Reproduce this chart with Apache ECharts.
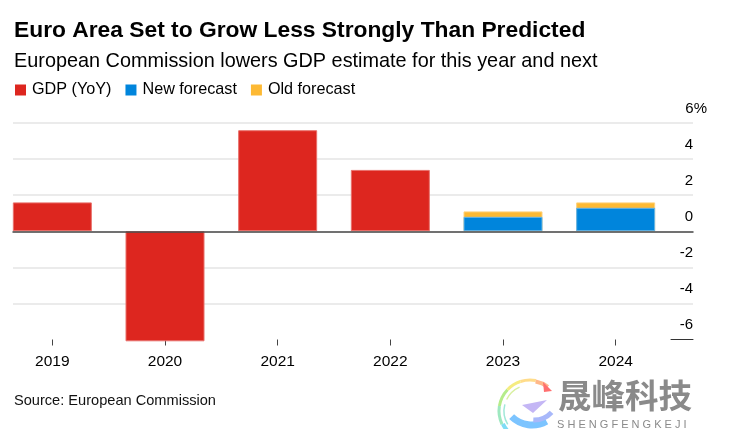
<!DOCTYPE html>
<html><head><meta charset="utf-8">
<style>html,body{margin:0;padding:0;background:#fff}#c{width:748px;height:429px}</style>
<script src="https://cdn.jsdelivr.net/npm/echarts@6/dist/echarts.min.js"></script>
</head><body><div id="c"></div>
<script>
const years = ['2019','2020','2021','2022','2023','2024'];
const gdp = [1.6,-6.1,5.6,3.4,null,null];
const newForecast = [null,null,null,null,0.8,1.3];
const oldForecast = [null,null,null,null,1.1,1.6];
const yTicks = {min:-6,max:6,interval:2};
const FONT = '"Liberation Sans", Arial, sans-serif';
const chart = echarts.init(document.getElementById('c'),null,{renderer:'canvas'});
const ink='#000';
const arc=(r,a,b,color,w=2.5,cx=530,cy=411)=>({type:'arc',silent:true,shape:{cx,cy,r,startAngle:a,endAngle:b},style:{stroke:color,lineWidth:w,fill:null}});
chart.setOption({
  animation:false,
  backgroundColor:'#fff',
  textStyle:{fontFamily:FONT},
  title:[
    {text:'Euro Area Set to Grow Less Strongly Than Predicted',left:9,top:14,textStyle:{fontFamily:FONT,fontSize:22.8,fontWeight:'bold',color:ink}},
    {text:'European Commission lowers GDP estimate for this year and next',left:9,top:47,textStyle:{fontFamily:FONT,fontSize:19.85,fontWeight:'normal',color:ink}},
    {text:'Source: European Commission',left:9,top:388,textStyle:{fontFamily:FONT,fontSize:14.6,fontWeight:'normal',color:'#111'}}
  ],
  legend:{left:10,top:77,itemWidth:11,itemHeight:11,itemGap:14,icon:'rect',
    itemStyle:{borderWidth:0},
    textStyle:{fontFamily:FONT,fontSize:16.2,color:ink,padding:[0,0,0,1]},
    data:['GDP (YoY)','New forecast','Old forecast']},
  grid:[
    {left:13,width:680,top:123,height:216.5,outerBoundsMode:'none'},
    {left:-4,width:676,top:123,height:216.5,outerBoundsMode:'none'},
    {left:671,width:22,top:123,height:216.5,outerBoundsMode:'none'}
  ],
  xAxis:[
    {gridIndex:0,type:'category',data:years,axisTick:{show:false},axisLabel:{show:false},
      axisLine:{show:true,onZero:true,lineStyle:{color:'#4a4a4a',width:1.5}},z:5},
    {gridIndex:1,type:'category',data:years,position:'bottom',
      axisLine:{show:false,onZero:false},
      axisTick:{show:true,alignWithLabel:true,length:6,lineStyle:{color:'#444',width:1}},
      axisLabel:{fontFamily:FONT,fontSize:15.5,color:ink,margin:14}},
    {gridIndex:2,type:'category',data:[''],axisTick:{show:false},axisLabel:{show:false},
      axisLine:{show:true,onZero:false,lineStyle:{color:'#333',width:1}}}
  ],
  yAxis:[
    {gridIndex:0,type:'value',position:'right',offset:14,...yTicks,
      axisLine:{show:false},axisTick:{show:false},
      splitLine:{show:true,showMinLine:false,lineStyle:{color:'#e4e4e4',width:1.5}},
      axisLabel:{inside:true,margin:0,fontFamily:FONT,fontSize:15,color:ink,verticalAlign:'bottom',
        lineHeight:15,padding:[0,0,7,0],
        formatter:v=>v===6?'6%':`{p|${v}}`,
        rich:{p:{fontFamily:FONT,fontSize:15,color:ink,padding:[0,14,0,0],lineHeight:15}}}},
    {gridIndex:1,type:'value',...yTicks,axisLine:{show:false},axisTick:{show:false},axisLabel:{show:false},splitLine:{show:false}},
    {gridIndex:2,type:'value',...yTicks,axisLine:{show:false},axisTick:{show:false},axisLabel:{show:false},splitLine:{show:false}}
  ],
  series:[
    {name:'GDP (YoY)',type:'bar',xAxisIndex:1,yAxisIndex:1,data:gdp,barWidth:79,barGap:'-100%',clip:false,itemStyle:{color:'#dd261f',borderColor:'#e8706b',borderWidth:1},z:3},
    {name:'Old forecast',type:'bar',xAxisIndex:1,yAxisIndex:1,data:oldForecast,barWidth:79,barGap:'-100%',clip:false,itemStyle:{color:'#fdb933',borderColor:'#fed27c',borderWidth:1},z:3},
    {name:'New forecast',type:'bar',xAxisIndex:1,yAxisIndex:1,data:newForecast,barWidth:79,barGap:'-100%',clip:false,itemStyle:{color:'#0085dc',borderColor:'#66b6ea',borderWidth:1},z:4}
  ],
  graphic:[
    {type:'group',silent:true,children:[
      arc(30,2.2,2.7,'#7fdcf5',4),arc(31,2.7,3.3,'#9ee8c0',3),arc(31,3.3,3.9,'#b5ec8a',3),
      arc(31,3.9,4.4,'#f5ec80',3),arc(31,4.4,4.9,'#ffdc8a',3),arc(30,4.9,5.35,'#ffb88a',4),
      arc(26,3.6,4.3,'#d8f0a0',1.5),arc(26,2.6,3.4,'#a0e8d8',1.5),
      arc(29,1.05,2.35,'#7cc4ff',7,532,396),arc(24,0.75,1.6,'#a8b8fa',5,534,396),
      {type:'polygon',silent:true,shape:{points:[[543,382],[552,391],[544,392]]},style:{fill:'#ff6f6f'}},
      {type:'polygon',silent:true,shape:{points:[[522,405],[547,400],[533,413]]},style:{fill:'#c4b6f5'}}
    ]},
    {type:'text',silent:true,left:558,top:379,style:{text:'晟峰科技',fontFamily:'"Noto Sans CJK SC"',fontWeight:'bold',fontSize:33.5,fill:'#8a8a8a'}},
    {type:'text',silent:true,left:557,top:419,style:{text:'S H E N G F E N G K E J I',fontFamily:FONT,fontSize:11,fill:'#8a8a8a'}}
  ]
});
</script></body></html>
